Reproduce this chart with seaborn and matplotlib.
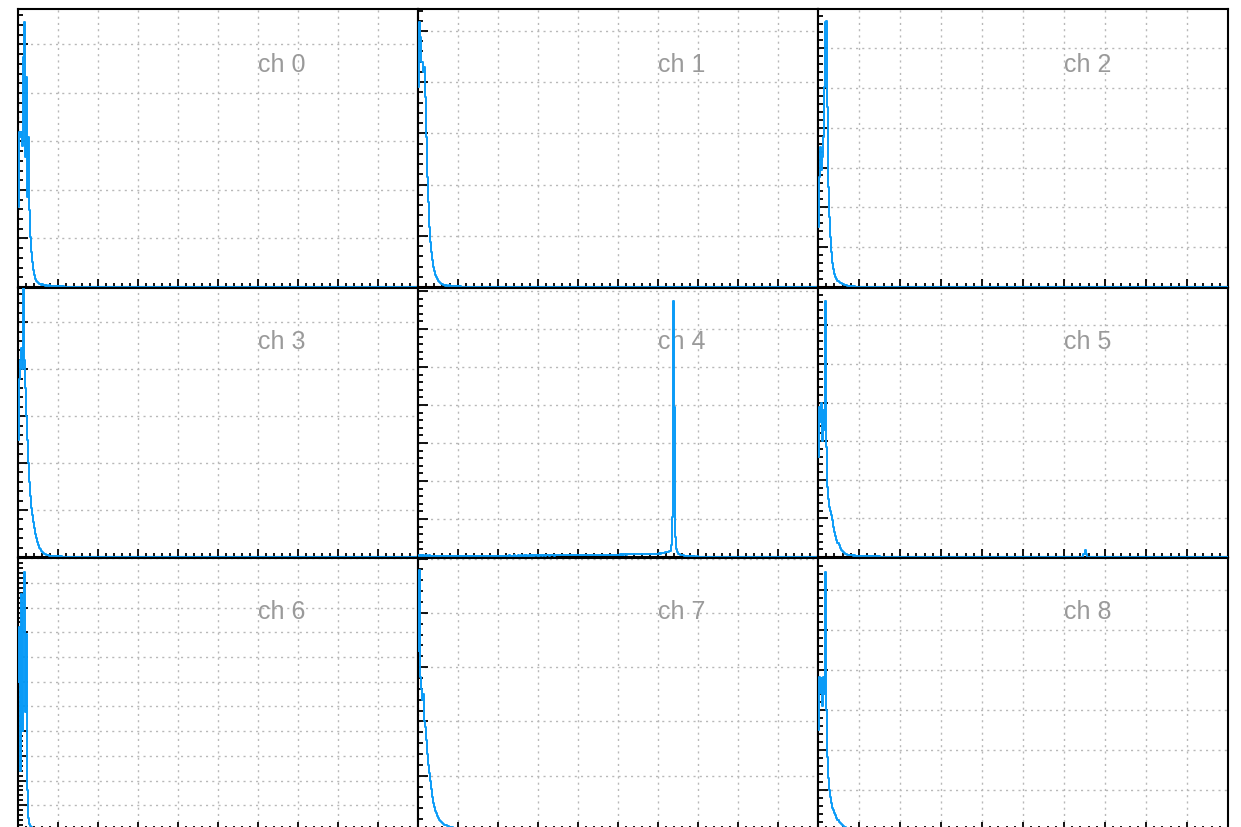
import numpy as np
import matplotlib
matplotlib.use("Agg")
import matplotlib.pyplot as plt
import seaborn as sns
from matplotlib.ticker import MultipleLocator, AutoMinorLocator

sns.set_theme(style="white")
plt.rcParams["font.family"] = ["Liberation Sans", "DejaVu Sans"]

# ADC spectra, one histogram per channel; bins of 2.5 ADC units from 0.
BIN_WIDTH = 2.5
X_MAX = 1000

channels = ["ch 0", "ch 1", "ch 2", "ch 3", "ch 4", "ch 5", "ch 6", "ch 7", "ch 8"]

ch0_counts = [165, 320, 309, 320, 290, 474, 546, 268, 433, 185, 309, 159, 103, 72, 51,
              35, 25, 16, 12, 10, 8, 6, 6, 4, 6, 4, 4, 2, 4, 2, 2, 4, 2, 2, 2, 0, 2, 2,
              0, 2, 2, 0, 2, 2, 0, 2]
ch1_counts = [390, 517, 488, 439, 439, 420, 430, 371, 293, 215, 166, 117, 88, 68, 53,
              39, 31, 23, 20, 16, 12, 10, 8, 6, 6, 4, 4, 2, 4, 2, 2, 4, 2, 2, 2, 0, 2,
              2, 0, 2, 2, 0, 2]
ch2_counts = [151, 276, 351, 294, 326, 377, 502, 665, 668, 452, 251, 176, 126, 88, 60,
              45, 33, 25, 20, 15, 13, 10, 10, 8, 8, 5, 5, 5, 3, 3, 3, 0, 3, 3, 0, 3]
ch3_counts = [250, 380, 420, 446, 400, 675, 420, 360, 300, 250, 200, 160, 130, 105, 90,
              75, 62, 50, 40, 32, 26, 20, 16, 13, 10, 8, 6, 6, 5, 4, 4, 3, 3, 3, 2, 3,
              2, 2, 2, 0, 2, 2, 0, 2]
ch4_counts = [3, 4, 3, 5, 3, 4, 3, 3, 4, 3, 3, 4, 3, 3, 2, 3, 3, 2, 3, 3,
              2, 3, 2, 3, 3, 2, 3, 2, 2, 3, 2, 3, 2, 2, 3, 2, 2, 3, 2, 2,
              3, 2, 2, 3, 2, 2, 3, 2, 3, 2, 2, 3, 2, 3, 2, 3, 2, 3, 3, 2,
              3, 2, 3, 3, 2, 3, 3, 2, 3, 3, 3, 2, 3, 3, 3, 3, 2, 3, 3, 3,
              3, 3, 2, 3, 3, 3, 3, 3, 3, 3, 3, 4, 3, 3, 3, 3, 4, 3, 3, 3,
              4, 3, 3, 4, 3, 3, 4, 3, 4, 3, 3, 4, 3, 4, 3, 4, 3, 4, 4, 3,
              4, 3, 4, 4, 3, 4, 4, 3, 4, 4, 4, 3, 4, 4, 4, 4, 3, 4, 4, 4,
              4, 4, 4, 4, 4, 5, 4, 4, 4, 4, 5, 4, 4, 5, 4, 4, 5, 4, 5, 4,
              5, 4, 5, 5, 4, 5, 5, 4, 5, 5, 5, 5, 4, 5, 5, 5, 5, 5, 5, 5,
              5, 6, 5, 5, 6, 5, 5, 6, 5, 6, 5, 6, 6, 5, 6, 6, 6, 6, 6, 6,
              6, 6, 7, 6, 7, 6, 7, 7, 6, 7, 7, 7, 7, 8, 7, 8, 7, 8, 8, 8,
              7, 8, 8, 7, 8, 8, 8, 9, 8, 8, 9, 8, 9, 9, 9,
              8, 9, 8, 9, 9, 9, 10, 9, 10, 10, 11, 11, 12, 12, 13, 14, 15, 17, 32, 105,
              674, 395, 53, 21, 13, 9, 7, 6, 5, 4, 4, 3, 3, 3, 2, 3, 2, 2, 2, 2,
              1, 2, 1, 1, 2, 1, 1, 1]
ch5_counts = [260, 389, 350, 400, 300, 380, 330, 663, 285, 181, 150, 130, 120, 110, 95,
              78, 65, 55, 44, 36, 30, 24, 19, 15, 13, 10, 9, 8, 6, 6, 5, 5, 4, 4, 3,
              4, 3, 3, 2, 3, 2, 3, 2, 2, 3, 2, 2, 2, 3, 2, 2, 2, 2, 2, 2, 2, 2, 2, 2,
              2]
ch6_counts = [600, 823, 240, 955, 400, 916, 1045, 478, 795, 160, 48, 24, 16, 12, 8, 8,
              6, 4, 4, 4, 4, 0, 4, 4, 0, 4]
ch7_counts = [330, 478, 282, 260, 240, 250, 200, 190, 166, 140, 120, 105, 90, 76, 61,
              50, 42, 35, 31, 26, 22, 19, 17, 15, 13, 11, 10, 9, 9, 8, 7, 6, 6, 5, 5,
              4, 4, 4, 4, 3, 3, 3, 2, 2, 2, 2]
ch8_counts = [250, 382, 343, 380, 310, 382, 340, 645, 300, 183, 130, 100, 83, 68, 55,
              50, 43, 38, 30, 25, 20, 17, 14, 12, 10, 8, 8, 6, 5, 5, 5, 4, 4, 3, 3, 3,
              2, 3, 2, 2, 2]

# small bump far out in the ch 5 tail: (bin index, counts)
ch5_tail_bumps = [(259, 8), (260, 18), (261, 9)]

all_counts = [ch0_counts, ch1_counts, ch2_counts, ch3_counts, ch4_counts,
              ch5_counts, ch6_counts, ch7_counts, ch8_counts]

# vertical axis maximum for each pad
y_max = [573, 543, 698, 573, 708, 697, 1101, 501, 680]

# pad geometry in pixels (left, top, width, height) on a 1241 x 827 canvas
W, H = 1241, 827
col_left = [18, 418, 818]
col_width = [400, 400, 410]
row_top = [9, 288, 558]
row_height = [278, 269, 272]

LINE_COLOR = "#0a9bf7"
GRID_COLOR = "#b8b8b8"

fig = plt.figure(figsize=(W / 100, H / 100), dpi=100)

n_bins = int(X_MAX / BIN_WIDTH)

for i, name in enumerate(channels):
    r, c = divmod(i, 3)
    left = col_left[c] / W
    bottom = 1 - (row_top[r] + row_height[r]) / H
    ax = fig.add_axes([left, bottom, col_width[c] / W, row_height[r] / H])

    counts = np.zeros(n_bins)
    head = np.asarray(all_counts[i], dtype=float)
    counts[:len(head)] = head
    if i == 5:
        for b, v in ch5_tail_bumps:
            counts[b] = v
    edges = np.arange(n_bins + 1) * BIN_WIDTH
    yvals = np.append(counts, counts[-1])

    sns.lineplot(x=edges, y=yvals, ax=ax, color=LINE_COLOR, linewidth=1.4,
                 drawstyle="steps-post", estimator=None, sort=False, zorder=3)

    ax.set_xlim(0, X_MAX)
    ax.set_ylim(0, y_max[i])
    ax.xaxis.set_major_locator(MultipleLocator(100))
    ax.xaxis.set_minor_locator(AutoMinorLocator(5))
    ax.yaxis.set_major_locator(MultipleLocator(100))
    ax.yaxis.set_minor_locator(AutoMinorLocator(5))
    ax.tick_params(axis="y", which="major", direction="in", length=7.5, width=1.3,
                   left=True, right=False, labelleft=False, color="black")
    ax.tick_params(axis="y", which="minor", direction="in", length=3.8, width=1.3,
                   left=True, right=False, color="black")
    ax.tick_params(axis="x", which="major", direction="in", length=6, width=1.3,
                   bottom=True, top=False, labelbottom=False, color="black")
    ax.tick_params(axis="x", which="minor", direction="in", length=3, width=1.3,
                   bottom=True, top=False, color="black")
    ax.set_xlabel("")
    ax.set_ylabel("")

    ax.grid(True, which="major", color=GRID_COLOR, linestyle=(0, (1.5, 3)),
            linewidth=1.0)
    ax.set_axisbelow(True)
    for side, sp in ax.spines.items():
        sp.set_visible(True)
        sp.set_color("black")
        sp.set_linewidth(1.5)
    ax.set_facecolor("white")

    ax.text(0.6, 0.8, name, transform=ax.transAxes, color="#9a9a9a",
            fontsize=18, ha="left", va="center", zorder=2)

fig.savefig("out.png", dpi=100, facecolor="white")
